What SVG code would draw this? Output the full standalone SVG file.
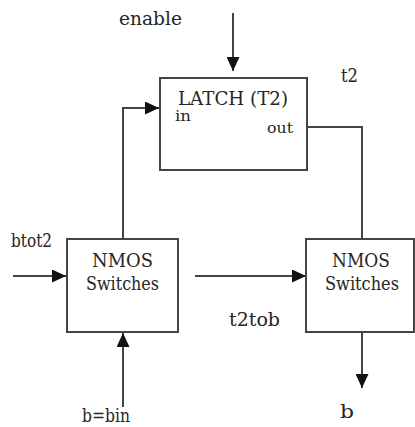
<svg xmlns="http://www.w3.org/2000/svg" width="415" height="427" viewBox="0 0 415 427">
  <style>
    .box { fill: #ffffff; stroke: #444444; stroke-width: 2; }
    .wire { fill: none; stroke: #444444; stroke-width: 2; }
    text { font-family: "DejaVu Serif", serif; fill: #262626; font-size: 18.5px; }
    text.sm { font-size: 15.5px; }
  </style>
  <defs>
    <marker id="arrow" markerUnits="userSpaceOnUse" markerWidth="15" markerHeight="13" refX="14" refY="6.5" orient="auto">
      <path d="M0,0 L14,6.5 L0,13 z" fill="#111111"/>
    </marker>
  </defs>
  <rect width="415" height="427" fill="#ffffff"/>

  <g id="connectors">
    <!-- enable into the latch -->
    <line class="wire" x1="233" y1="13" x2="233" y2="71" marker-end="url(#arrow)"/>
    <!-- left switches up into latch input -->
    <polyline class="wire" points="123,239 123,108 159,108" marker-end="url(#arrow)"/>
    <!-- latch output down to right switches -->
    <polyline class="wire" points="307,127 362,127 362,239"/>
    <!-- btot2 input -->
    <line class="wire" x1="13" y1="276" x2="66" y2="276" marker-end="url(#arrow)"/>
    <!-- b=bin input from below -->
    <line class="wire" x1="123" y1="407" x2="123" y2="333" marker-end="url(#arrow)"/>
    <!-- t2tob between the switch blocks -->
    <line class="wire" x1="195" y1="276" x2="306" y2="276" marker-end="url(#arrow)"/>
    <!-- b output -->
    <line class="wire" x1="362" y1="332" x2="362" y2="388" marker-end="url(#arrow)"/>
  </g>

  <g id="latch">
    <rect class="box" x="160" y="78" width="147" height="92"/>
    <text x="178" y="105" textLength="110" lengthAdjust="spacingAndGlyphs">LATCH (T2)</text>
    <text class="sm" x="175" y="121" textLength="16" lengthAdjust="spacingAndGlyphs">in</text>
    <text class="sm" x="267" y="133" textLength="26" lengthAdjust="spacingAndGlyphs">out</text>
  </g>

  <g id="switches-left">
    <rect class="box" x="67" y="239" width="111" height="93"/>
    <text x="92" y="267" textLength="61" lengthAdjust="spacingAndGlyphs">NMOS</text>
    <text x="86" y="290" textLength="73" lengthAdjust="spacingAndGlyphs">Switches</text>
  </g>

  <g id="switches-right">
    <rect class="box" x="306" y="239" width="108" height="93"/>
    <text x="332" y="267" textLength="58" lengthAdjust="spacingAndGlyphs">NMOS</text>
    <text x="325" y="290" textLength="74" lengthAdjust="spacingAndGlyphs">Switches</text>
  </g>

  <g id="labels">
    <text x="119" y="25" textLength="63" lengthAdjust="spacingAndGlyphs">enable</text>
    <text x="341" y="82" textLength="17" lengthAdjust="spacingAndGlyphs">t2</text>
    <text x="11" y="247" textLength="41" lengthAdjust="spacingAndGlyphs">btot2</text>
    <text x="82" y="422" textLength="48" lengthAdjust="spacingAndGlyphs">b=bin</text>
    <text x="229" y="326" textLength="51" lengthAdjust="spacingAndGlyphs">t2tob</text>
    <text x="340" y="418" textLength="14" lengthAdjust="spacingAndGlyphs">b</text>
  </g>
</svg>
